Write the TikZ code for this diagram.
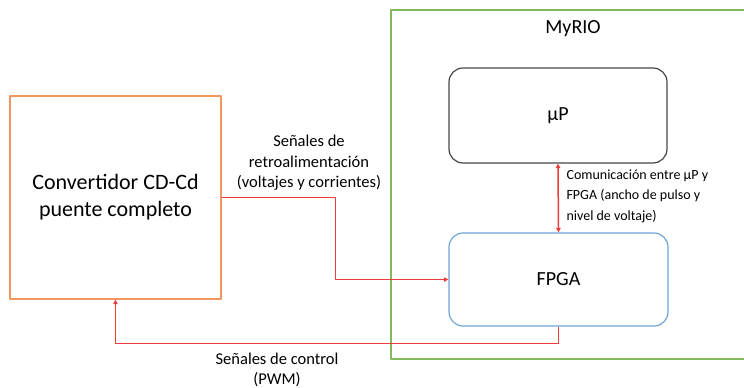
\documentclass[tikz,border=0pt]{standalone}
\usepackage{fontspec}
\setmainfont{Carlito}
\usetikzlibrary{arrows.meta}
\definecolor{naranja}{RGB}{241,150,95}
\definecolor{verde}{RGB}{130,185,95}
\definecolor{azul}{RGB}{110,165,215}
\definecolor{gris}{RGB}{70,70,70}
\definecolor{rojo}{RGB}{238,60,60}
\tikzset{
  bloque/.style={draw, line width=1.2pt, rounded corners=14pt, align=center, font=\fontsize{20}{26}\selectfont},
  senal/.style={draw=rojo, line width=1.5pt},
  etiqueta/.style={font=\fontsize{16.5}{20.5}\selectfont},
  etiquetachica/.style={font=\fontsize{14}{20.5}\selectfont}
}
\begin{document}
\begin{tikzpicture}[x=1pt, y=-1pt, line join=round, >={Triangle[length=4.5pt,width=4.5pt]}]
    \useasboundingbox (0,0) rectangle (744,388);
    \clip (0,0) rectangle (744,388);
    % caja MyRIO (sale por la derecha)
    \draw[verde, line width=1.2pt] (391,10) rectangle (770,359);
    \node[font=\fontsize{20}{24}\selectfont] (myrio) at (573,29) {MyRIO};
    % bloques
    \node[bloque, draw=naranja, rounded corners=0pt, minimum width=211pt, minimum height=203pt, font=\fontsize{22}{27}\selectfont] (conv) at (115.5,197.5) {Convertidor CD-Cd\\puente completo};
    \node[bloque, draw=gris, minimum width=218pt, minimum height=95pt] (up) at (558,115.5) {µP};
    \node[bloque, draw=azul, minimum width=219pt, minimum height=93pt] (fpga) at (558.5,279.5) {FPGA};
    % conexiones
    \draw[senal, <->, fill=rojo] (up.south) -- (fpga.north);
    \draw[senal, ->] (conv.east) -- ++(114,0) |- (fpga.west);
    \draw[senal, ->] (fpga.south) -- ++(0,17) -| (conv.south);
    % etiquetas
    \node[etiqueta, align=center] (lblret) at (309,163) {Señales de\\retroalimentación\\(voltajes y corrientes)};
    \node[etiquetachica, align=left, anchor=west] (lblcom) at (563,196) {Comunicación entre µP y\\FPGA (ancho de pulso y\\nivel de voltaje)};
    \node[etiqueta, align=center] (lblctl) at (277,370) {Señales de control\\(PWM)};
\end{tikzpicture}
\end{document}
